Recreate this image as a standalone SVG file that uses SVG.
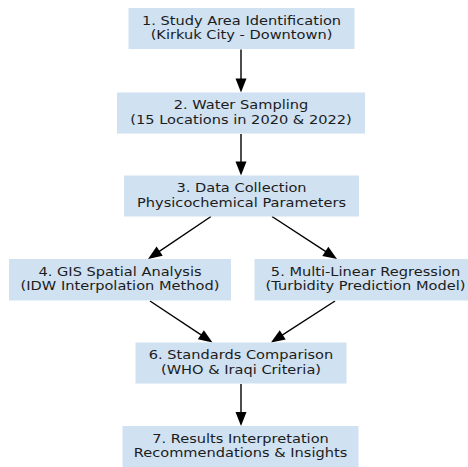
<svg xmlns="http://www.w3.org/2000/svg" width="468" height="467" viewBox="0 0 468 467">
<style>
.box{fill:#d0e1f2;stroke:none}
.lbl{font-family:"DejaVu Sans",sans-serif;font-size:14.6px;fill:#1c1c1c;text-anchor:middle}
.arr{stroke:#000;stroke-width:1.4;fill:none;marker-end:url(#head)}
</style>
<defs>
<marker id="head" markerUnits="userSpaceOnUse" markerWidth="14" markerHeight="11" refX="8" refY="5.5" orient="auto" overflow="visible">
<path d="M0,0 L14,5.5 L0,11 z" fill="#000"/>
</marker>
</defs>
<rect width="468" height="467" fill="#fff"/>
<g id="connectors">
<line class="arr" x1="241" y1="49.5" x2="241" y2="86.5"/>
<line class="arr" x1="241" y1="134" x2="241" y2="169.5"/>
<line class="arr" x1="211" y1="216.5" x2="153" y2="255.6"/>
<line class="arr" x1="272" y1="216.5" x2="332" y2="255.7"/>
<line class="arr" x1="150" y1="301" x2="207.5" y2="339.2"/>
<line class="arr" x1="335" y1="301" x2="276" y2="339.2"/>
<line class="arr" x1="241" y1="384" x2="241" y2="420"/>
</g>
<g id="node1">
<rect class="box" x="128.5" y="8" width="226" height="41"/>
<text class="lbl" transform="translate(241.5,28.5) scale(1,0.82)"><tspan x="0" y="-4.3">1. Study Area Identification</tspan><tspan x="0" y="12.8">(Kirkuk City - Downtown)</tspan></text>
</g>
<g id="node2">
<rect class="box" x="117" y="92.5" width="248" height="41"/>
<text class="lbl" transform="translate(241,113) scale(1,0.82)"><tspan x="0" y="-4.3">2. Water Sampling</tspan><tspan x="0" y="12.8">(15 Locations in 2020 &amp; 2022)</tspan></text>
</g>
<g id="node3">
<rect class="box" x="124" y="175.5" width="235" height="41"/>
<text class="lbl" transform="translate(241.5,196) scale(1,0.82)"><tspan x="0" y="-4.3">3. Data Collection</tspan><tspan x="0" y="12.8">Physicochemical Parameters</tspan></text>
</g>
<g id="node4">
<rect class="box" x="9" y="259" width="222" height="41.5"/>
<text class="lbl" transform="translate(120,279.8) scale(1,0.82)"><tspan x="0" y="-4.3">4. GIS Spatial Analysis</tspan><tspan x="0" y="12.8">(IDW Interpolation Method)</tspan></text>
</g>
<g id="node5">
<rect class="box" x="254.5" y="259" width="223" height="41.5"/>
<text class="lbl" transform="translate(365.5,279.8) scale(1,0.82)"><tspan x="0" y="-4.3">5. Multi-Linear Regression</tspan><tspan x="0" y="12.8">(Turbidity Prediction Model)</tspan></text>
</g>
<g id="node6">
<rect class="box" x="135.5" y="342.5" width="211" height="41"/>
<text class="lbl" transform="translate(241,363) scale(1,0.82)"><tspan x="0" y="-4.3">6. Standards Comparison</tspan><tspan x="0" y="12.8">(WHO &amp; Iraqi Criteria)</tspan></text>
</g>
<g id="node7">
<rect class="box" x="122.5" y="426" width="236" height="41"/>
<text class="lbl" transform="translate(240.5,446.5) scale(1,0.82)"><tspan x="0" y="-4.3">7. Results Interpretation</tspan><tspan x="0" y="12.8">Recommendations &amp; Insights</tspan></text>
</g>
</svg>
